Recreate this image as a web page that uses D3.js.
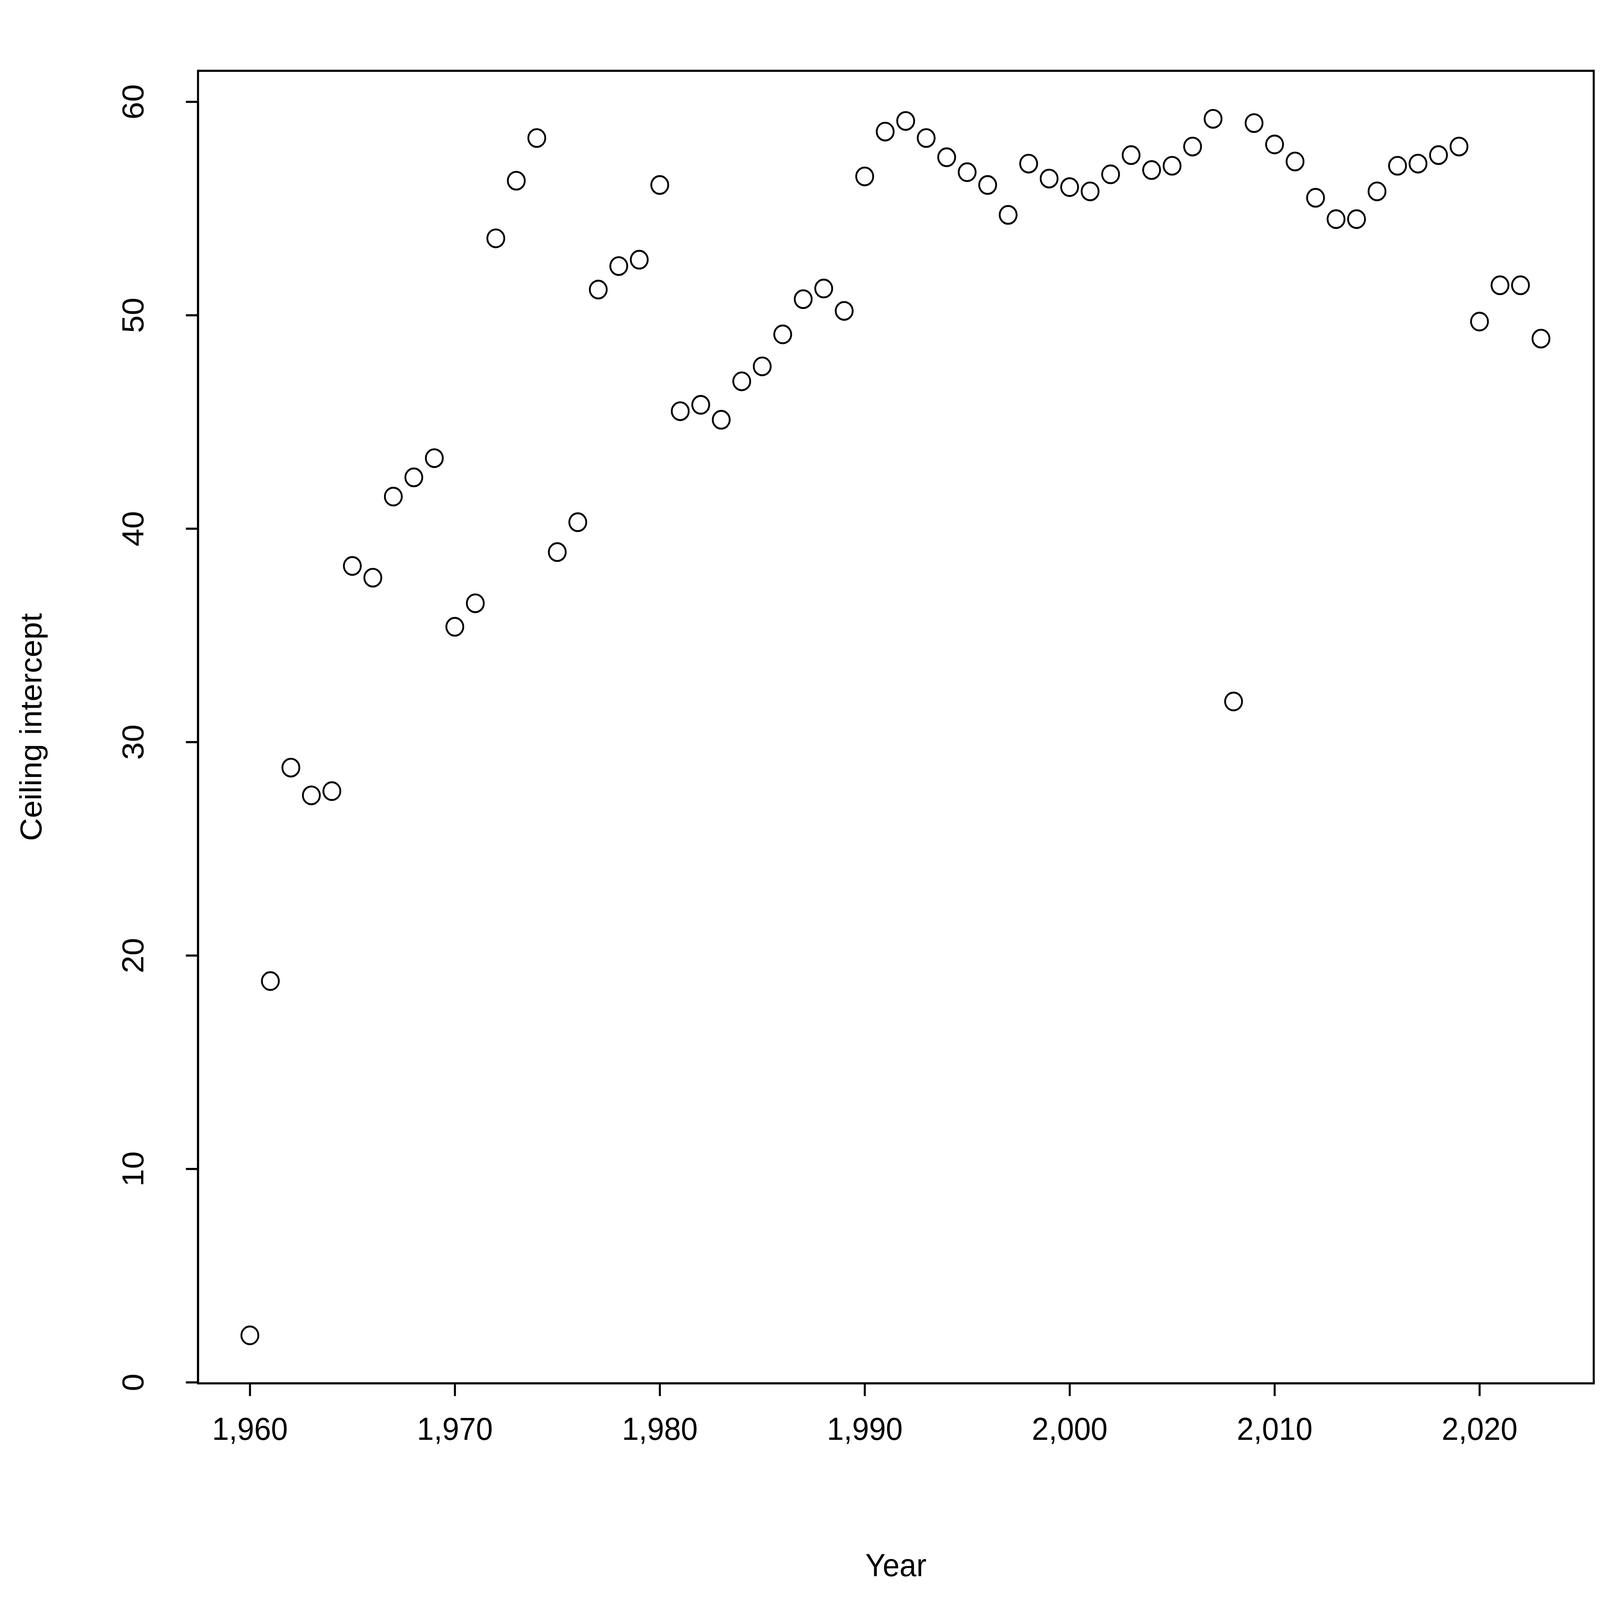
<!DOCTYPE html>
<html>
<head>
<meta charset="utf-8">
<script src="https://cdn.jsdelivr.net/npm/d3@7"></script>
<style>
  html, body { margin: 0; padding: 0; background: white; overflow: hidden; }
  svg { display: block; width: 100vw; height: 100vh; }
  text { font-family: "Liberation Sans", Arial, sans-serif; }
</style>
</head>
<body>
<div id="figure_area"></div>
<script>
// ----- DATA
var years = d3.range(1960, 2024);
var intercepts = [
    2.2, 18.8, 28.8, 27.5, 27.7, 38.25, 37.7, 41.5, 42.4, 43.3,
    35.4, 36.5, 53.6, 56.3, 58.3, 38.9, 40.3, 51.2, 52.3, 52.6,
    56.1, 45.5, 45.8, 45.1, 46.9, 47.6, 49.1, 50.75, 51.25, 50.2,
    56.5, 58.6, 59.1, 58.3, 57.4, 56.7, 56.1, 54.7, 57.1, 56.4,
    56.0, 55.8, 56.6, 57.5, 56.8, 57.0, 57.9, 59.2, 31.9, 59.0,
    58.0, 57.2, 55.5, 54.5, 54.5, 55.8, 57.0, 57.1, 57.5, 57.9,
    49.7, 51.4, 51.4, 48.9
];
var x_ticks = [1960, 1970, 1980, 1990, 2000, 2010, 2020];
var y_ticks = [0, 10, 20, 30, 40, 50, 60];

// ----- FIGURE
const fig = { width: 7927, height: 7548 };
const box = { left: 981, right: 7896, top: 334, bottom: 6526 };

// viewBox so the drawing fills the window whatever the pixel ratio
var svg = d3.select("#figure_area")
    .append("svg")
    .attr("viewBox", "0 0 " + fig.width + " " + fig.height)
    .attr("preserveAspectRatio", "none");

var x_scale = d3.scaleLinear().domain([1960, 2020]).range([1238, 7330]);
var y_scale = d3.scaleLinear().domain([0, 60]).range([6521, 480]);

// box
svg.append("rect")
    .attr("x", box.left).attr("y", box.top)
    .attr("width", box.right - box.left).attr("height", box.bottom - box.top)
    .attr("fill", "none").attr("stroke", "black").attr("stroke-width", 10);

// x axis
var x_axis = svg.append("g")
    .attr("transform", "translate(0," + box.bottom + ")")
    .call(d3.axisBottom(x_scale).tickValues(x_ticks).tickSize(60).tickPadding(100).tickSizeOuter(0));
x_axis.select(".domain").attr("stroke-width", 10)
    .attr("d", "M" + x_scale(1960) + ",0H" + x_scale(2020));
x_axis.selectAll(".tick line").attr("stroke-width", 10);
x_axis.selectAll("text").attr("font-size", 150).attr("font-family", "Liberation Sans, Arial, sans-serif");

// y axis
var y_axis = svg.append("g")
    .attr("transform", "translate(" + box.left + ",0)")
    .call(d3.axisLeft(y_scale).tickValues(y_ticks).tickSize(60).tickPadding(0).tickSizeOuter(0));
y_axis.select(".domain").attr("stroke-width", 10)
    .attr("d", "M0," + y_scale(0) + "V" + y_scale(60));
y_axis.selectAll(".tick line").attr("stroke-width", 10);
y_axis.selectAll("text")
    .attr("font-size", 150).attr("font-family", "Liberation Sans, Arial, sans-serif")
    .attr("text-anchor", "middle").attr("x", 0).attr("dy", 0)
    .attr("transform", "translate(-310,0) rotate(-90)")
    .attr("dominant-baseline", "middle");

// labels
svg.append("text")
    .attr("x", (box.left + box.right) / 2).attr("y", 7435)
    .attr("text-anchor", "middle").attr("font-size", 150)
    .text("Year");
svg.append("text")
    .attr("transform", "translate(205," + ((box.top + box.bottom) / 2) + ") rotate(-90)")
    .attr("text-anchor", "middle").attr("font-size", 150)
    .text("Ceiling intercept");

// points
svg.append("g").selectAll("circle")
    .data(years)
    .join("circle")
    .attr("cx", function (d) { return x_scale(d); })
    .attr("cy", function (d, i) { return y_scale(intercepts[i]); })
    .attr("r", 42)
    .attr("fill", "none")
    .attr("stroke", "black")
    .attr("stroke-width", 9);
</script>
</body>
</html>
